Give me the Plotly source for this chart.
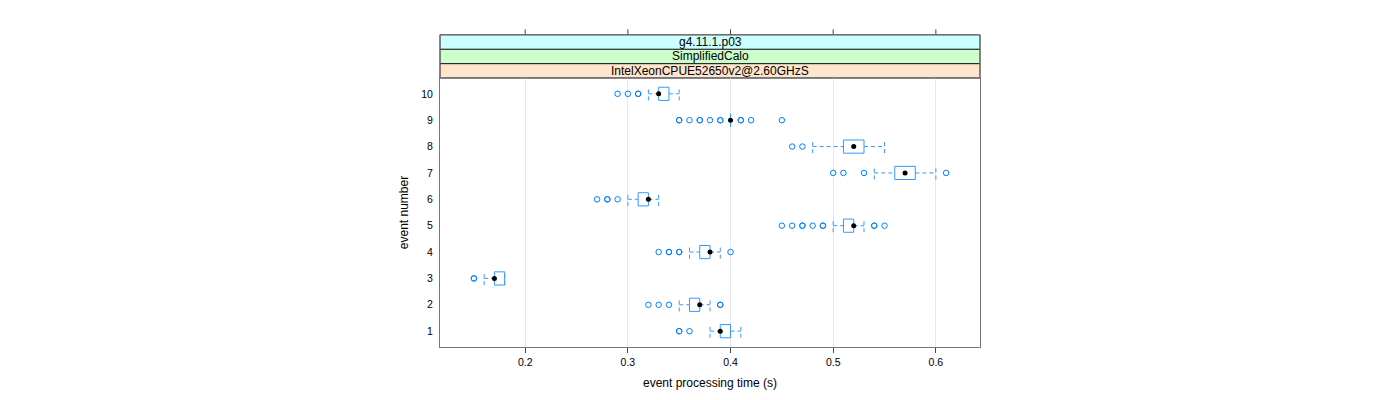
import plotly.graph_objects as go

# ---- data ----
events = [1, 2, 3, 4, 5, 6, 7, 8, 9, 10]
lower_whisker = [0.38, 0.35, 0.16, 0.36, 0.50, 0.30, 0.54, 0.48, 0.40, 0.32]
q1 = [0.39, 0.36, 0.17, 0.37, 0.51, 0.31, 0.56, 0.51, 0.40, 0.33]
median = [0.39, 0.37, 0.17, 0.38, 0.52, 0.32, 0.57, 0.52, 0.40, 0.33]
q3 = [0.40, 0.37, 0.18, 0.38, 0.52, 0.32, 0.58, 0.53, 0.40, 0.34]
upper_whisker = [0.41, 0.38, 0.18, 0.39, 0.53, 0.33, 0.60, 0.55, 0.40, 0.35]
outliers = [
    [0.35, 0.35, 0.36],
    [0.32, 0.33, 0.34, 0.39, 0.39],
    [0.15, 0.15],
    [0.33, 0.34, 0.34, 0.35, 0.35, 0.40],
    [0.45, 0.46, 0.47, 0.47, 0.48, 0.49, 0.49, 0.54, 0.54, 0.55],
    [0.27, 0.28, 0.28, 0.29],
    [0.50, 0.51, 0.53, 0.61],
    [0.46, 0.47],
    [0.35, 0.35, 0.36, 0.37, 0.37, 0.38, 0.39, 0.39, 0.41, 0.41, 0.42, 0.45],
    [0.29, 0.30, 0.31, 0.31],
]
x_ticks = [0.2, 0.3, 0.4, 0.5, 0.6]
strip_labels = ["IntelXeonCPUE52650v2@2.60GHzS", "SimplifiedCalo", "g4.11.1.p03"]
strip_colors = ["#ffe5cc", "#ccffcc", "#ccffff"]

BLUE = "#0080ff"
BOX_BLUE = "#3399ff"
HALF = 0.25  # half box height in category units

# ---- build geometry from data ----
bx, by = [], []
wx, wy = [], []
cx, cy = [], []
ox, oy = [], []
for i, ev in enumerate(events):
    bx += [q1[i], q3[i], q3[i], q1[i], q1[i], None]
    by += [ev - HALF, ev - HALF, ev + HALF, ev + HALF, ev - HALF, None]
    wx += [lower_whisker[i], q1[i], None, q3[i], upper_whisker[i], None]
    wy += [ev, ev, None, ev, ev, None]
    for w in (lower_whisker[i], upper_whisker[i]):
        cx += [w, w, None]
        cy += [ev - HALF, ev + HALF, None]
    for o in outliers[i]:
        ox.append(o)
        oy.append(ev)

fig = go.Figure()
fig.add_trace(go.Scatter(x=wx, y=wy, mode="lines",
                         line=dict(color=BOX_BLUE, width=1, dash="4px,3px"),
                         hoverinfo="skip", showlegend=False))
fig.add_trace(go.Scatter(x=cx, y=cy, mode="lines",
                         line=dict(color=BOX_BLUE, width=1, dash="4px,3px"),
                         hoverinfo="skip", showlegend=False))
fig.add_trace(go.Scatter(x=bx, y=by, mode="lines",
                         line=dict(color=BOX_BLUE, width=1),
                         hoverinfo="skip", showlegend=False))
fig.add_trace(go.Scatter(x=ox, y=oy, mode="markers",
                         marker=dict(symbol="circle-open", size=5.5, color=BLUE,
                                     line=dict(width=1, color=BLUE)),
                         showlegend=False))
fig.add_trace(go.Scatter(x=median, y=events, mode="markers",
                         marker=dict(symbol="circle", size=5, color="black"),
                         showlegend=False))

# plot area geometry (pixels); the page body adds an 8px offset
OFF = 8
L, R, T, B = 440 - OFF, 420 + OFF, 78 - OFF, 53 + OFF
H = 400 - T - B
strip_h = 14.4 / H
tick_h = 5.5 / H

shapes = []
for k, (lab, col) in enumerate(zip(strip_labels, strip_colors)):
    y0 = 1 + k * strip_h
    y1 = 1 + (k + 1) * strip_h
    shapes.append(dict(type="rect", xref="paper", yref="paper",
                       x0=0, x1=1, y0=y0, y1=y1, fillcolor=col,
                       line=dict(color="#222222", width=1), layer="below"))
top = 1 + 3 * strip_h
for t in x_ticks:
    shapes.append(dict(type="line", xref="x", yref="paper", x0=t, x1=t,
                       y0=top, y1=top + tick_h,
                       line=dict(color="#444444", width=1)))
shapes.append(dict(type="rect", xref="paper", yref="paper", x0=0, x1=1,
                   y0=1, y1=top, line=dict(color="#777777", width=1),
                   fillcolor="rgba(0,0,0,0)"))

annotations = []
for k, lab in enumerate(strip_labels):
    annotations.append(dict(text=lab, xref="paper", yref="paper", x=0.5,
                            y=1 + (k + 0.5) * strip_h, showarrow=False,
                            font=dict(size=12, color="black"),
                            xanchor="center", yanchor="middle"))

fig.update_layout(
    width=1400, height=400,
    margin=dict(l=L, r=R, t=T, b=B),
    paper_bgcolor="white", plot_bgcolor="white",
    font=dict(family="Liberation Sans, Arial, sans-serif", size=10, color="black"),
    shapes=shapes, annotations=annotations,
    xaxis=dict(range=[0.117, 0.643], tickvals=x_ticks,
               ticktext=[str(t) for t in x_ticks],
               showgrid=True, gridcolor="#e8e8e8", gridwidth=1,
               zeroline=False, showline=True, mirror=True,
               linecolor="#777777", linewidth=1,
               ticks="outside", ticklen=5, tickcolor="#444444",
               tickfont=dict(size=10.5),
               title=dict(text="event processing time (s)",
                          font=dict(size=12), standoff=12)),
    yaxis=dict(range=[0.4, 10.6], tickvals=events,
               ticktext=[str(e) for e in events],
               showgrid=False, zeroline=False, showline=True, mirror=True,
               linecolor="#777777", linewidth=1, ticks="",
               ticklabelstandoff=4,
               tickfont=dict(size=10.5),
               title=dict(text="event number", font=dict(size=12),
                          standoff=10)),
)

fig.write_html("out.html")
